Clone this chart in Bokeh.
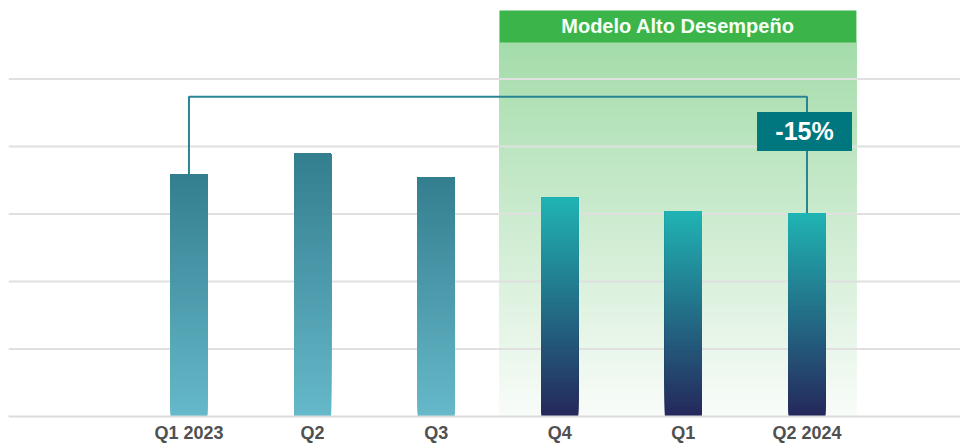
from bokeh.plotting import figure
from bokeh.models import Range1d, FixedTicker, ColumnDataSource
from bokeh.core.properties import value
from bokeh.embed import file_html
from bokeh.resources import INLINE

# ---------------- data ----------------
quarters = ["Q1 2023", "Q2", "Q3", "Q4", "Q1", "Q2 2024"]
values = [71.9, 77.9, 71.0, 64.8, 60.9, 60.3]
grid_values = [20, 40, 60, 80, 100]
highlight_start = 3
header_text = "Modelo Alto Desempeño"
change_label = "-15%"

# ---------------- style ----------------
FONT = "Liberation Sans"
BAR_W = 0.30
OLD_TOP, OLD_BOT = "#337e8f", "#66b9ca"
NEW_TOP, NEW_BOT = "#20b4b3", "#25285b"
SHADE_TOP, SHADE_BOT = "#a4dcaa", "#f9fcf9"
HEADER_COL = "#3bb54a"
BOX_COL = "#00777f"
LINE_COL = "#2a8592"
Y_TOP = 123.3
HEADER_LO, HEADER_HI = 110.85, 120.36
BRACKET_Y = 94.8
BOX_Y = 84.5


def hex2rgb(h):
    h = h.lstrip("#")
    return [int(h[i:i + 2], 16) for i in (0, 2, 4)]


def mix(c1, c2, t):
    a, b = hex2rgb(c1), hex2rgb(c2)
    return "#%02x%02x%02x" % tuple(round(a[i] + (b[i] - a[i]) * t) for i in range(3))


n = len(quarters)
xs = list(range(n))

p = figure(width=960, height=445, output_backend="svg", toolbar_location=None,
           x_range=Range1d(-1.460, 6.242), y_range=Range1d(0, Y_TOP),
           y_axis_location=None, min_border_left=8, min_border_right=0,
           min_border_top=0, min_border_bottom=0,
           background_fill_color="white", border_fill_color="white")
p.outline_line_color = None
p.grid.visible = False

# shaded highlight region (vertical gradient, overlapping slices)
sl, sr = highlight_start - 0.488, (n - 1) + 0.40
NS = 120
sb, sc = [], []
for k in range(NS):
    sb.append(HEADER_LO * k / NS)
    sc.append(mix(SHADE_BOT, SHADE_TOP, (k + 0.5) / NS))
p.quad(left=sl, right=sr, bottom=sb, top=HEADER_LO, fill_color=sc, line_color=None)

# gridlines
x0, x1 = p.x_range.start, p.x_range.end
p.segment(x0=[x0] * len(grid_values), x1=[x1] * len(grid_values),
          y0=grid_values, y1=grid_values, line_color="#e0e0e0", line_width=2)

# header
p.quad(left=[sl], right=[sr], bottom=[HEADER_LO], top=[HEADER_HI],
       fill_color=HEADER_COL, line_color=None)
p.text(x=[(sl + sr) / 2], y=[(HEADER_LO + HEADER_HI) / 2], text=[header_text],
       text_font=value(FONT), text_font_style="bold", text_font_size="20px",
       text_color="#f6fff6", text_align="center", text_baseline="middle")

# gradient bars (each slice runs to the bar top; later slices cover earlier ones)
bl, br, bb, bt, bc = [], [], [], [], []
NB = 90
for i, v in enumerate(values):
    top_c, bot_c = (NEW_TOP, NEW_BOT) if i >= highlight_start else (OLD_TOP, OLD_BOT)
    for k in range(NB):
        bl.append(xs[i] - BAR_W / 2)
        br.append(xs[i] + BAR_W / 2)
        bb.append(v * k / NB)
        bt.append(v)
        bc.append(mix(bot_c, top_c, (k + 0.5) / NB))
p.quad(source=ColumnDataSource(dict(l=bl, r=br, b=bb, t=bt, c=bc)),
       left="l", right="r", bottom="b", top="t", fill_color="c", line_color=None)

# bracket connector
p.line(x=[xs[0], xs[0], xs[-1], xs[-1]], y=[values[0], BRACKET_Y, BRACKET_Y, values[-1]],
       line_color=LINE_COL, line_width=2)

# change label box
p.rect(x=[xs[-1] - 0.02], y=[BOX_Y], width=95, height=39,
       width_units="screen", height_units="screen", fill_color=BOX_COL, line_color=None)
p.text(x=[xs[-1] - 0.02], y=[BOX_Y], text=[change_label],
       text_font=value(FONT), text_font_style="bold", text_font_size="25px",
       text_color="white", text_align="center", text_baseline="middle")

# x axis
ax = p.xaxis[0]
ax.ticker = FixedTicker(ticks=xs)
ax.major_label_overrides = {i: q for i, q in enumerate(quarters)}
ax.axis_line_color = "#dcdcdc"
ax.axis_line_width = 2
ax.major_tick_line_color = None
ax.minor_tick_line_color = None
ax.major_label_standoff = 0
ax.major_label_text_font = FONT
ax.major_label_text_font_style = "bold"
ax.major_label_text_font_size = "18px"
ax.major_label_text_color = "#505050"

open("out.html", "w").write(file_html(p, INLINE))
